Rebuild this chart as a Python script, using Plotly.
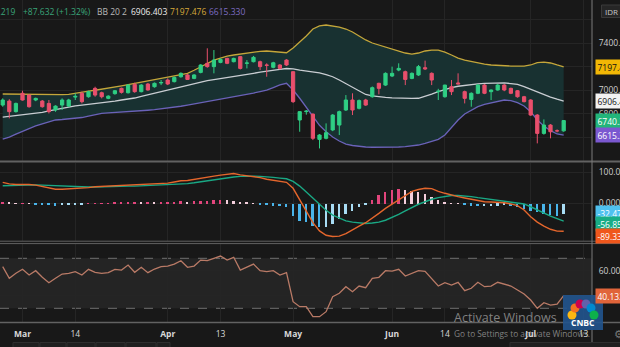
import plotly.graph_objects as go

# ---------------- data ----------------
tick_idx = [3, 11, 25, 33, 44, 59, 67, 80, 88]
tick_txt = ['<b>Mar</b>', '14', '<b>Apr</b>', '13', '<b>May</b>', '<b>Jun</b>', '14', '<b>Jul</b>', '13']

opens = [6872, 6906, 6816, 6972, 6957, 6915, 6906, 6886, 6830, 6872,
         6864, 6940, 6972, 6943, 7014, 6977, 6929, 6969, 7014, 6977,
         7048, 6986, 7051, 7028, 7060, 7085, 7071, 7113, 7128, 7099,
         7150, 7227, 7199, 7235, 7269, 7241, 7284, 7227, 7241, 7241,
         7213, 7193, 7213, 7255, 7156, 6745, 6816, 6795, 6580, 6589,
         6660, 6702, 6830, 6915, 6844, 6915, 6943, 7057, 7042, 7119,
         7170, 7156, 7099, 7128, 7190, 7142, 6986, 6943, 7028, 7060,
         6986, 6920, 6972, 7042, 6986, 7000, 7042, 7014, 6994, 6943,
         6915, 6787, 6631, 6702, 6653, 6652.587]
highs = [6929, 6922, 6893, 6994, 6965, 6935, 6915, 6915, 6870, 6929,
         6925, 6972, 6986, 6994, 7028, 6986, 6955, 7000, 7020, 7050,
         7062, 7050, 7060, 7064, 7085, 7099, 7115, 7150, 7135, 7135,
         7220, 7355, 7340, 7270, 7275, 7275, 7290, 7255, 7290, 7250,
         7227, 7240, 7220, 7262, 7160, 6820, 6830, 6801, 6625, 6716,
         6795, 6825, 6957, 6972, 6920, 6925, 7030, 7062, 7150, 7199,
         7227, 7165, 7150, 7213, 7250, 7150, 7010, 7045, 7085, 7142,
         6995, 6980, 7050, 7050, 7005, 7050, 7050, 7020, 7000, 6950,
         6922, 6795, 6750, 6710, 6665, 6745]
lows = [6858, 6759, 6808, 6910, 6850, 6905, 6850, 6801, 6815, 6830,
        6855, 6915, 6886, 6935, 6943, 6929, 6922, 6960, 6970, 6970,
        6977, 6980, 6995, 7020, 7042, 7042, 7065, 7105, 7085, 7092,
        7142, 7190, 7142, 7228, 7220, 7235, 7175, 7184, 7235, 7170,
        7113, 7185, 7175, 7205, 6890, 6645, 6790, 6574, 6503, 6580,
        6650, 6617, 6822, 6787, 6835, 6865, 6935, 6963, 7035, 7110,
        7160, 7042, 7092, 7120, 7170, 7042, 6915, 6935, 6957, 7050,
        6886, 6858, 6965, 6965, 6915, 6995, 6990, 6965, 6935, 6895,
        6780, 6546, 6620, 6589, 6640, 6645]
closes = [6915, 6816, 6886, 6915, 6858, 6929, 6858, 6816, 6863, 6915,
          6915, 6946, 6901, 6986, 6957, 6943, 6948, 6994, 6980, 7042,
          6986, 7042, 7000, 7057, 7064, 7051, 7107, 7142, 7090, 7128,
          7213, 7199, 7255, 7260, 7227, 7269, 7184, 7230, 7278, 7199,
          7210, 7232, 7184, 7213, 6901, 6816, 6820, 6589, 6617, 6637,
          6787, 6816, 6915, 6830, 6910, 6872, 7020, 7014, 7142, 7142,
          7184, 7090, 7142, 7199, 7180, 7085, 6990, 7042, 6986, 7052,
          6929, 6972, 7042, 6972, 7000, 7042, 7000, 6972, 6943, 6901,
          6787, 6631, 6702, 6645, 6652.587, 6740.219]

bb_upper = [6966, 6965, 6964, 6964, 6963, 6962, 6960, 6957, 6957, 6960,
            6963, 6970, 6980, 6990, 6998, 7006, 7016, 7026, 7036, 7046,
            7057, 7067, 7077, 7087, 7098, 7108, 7119, 7130, 7142, 7168,
            7198, 7228, 7255, 7272, 7289, 7298, 7306, 7316, 7326, 7329,
            7332, 7329, 7326, 7317, 7357, 7408, 7460, 7519, 7545, 7553,
            7545, 7536, 7519, 7494, 7460, 7426, 7400, 7383, 7366, 7349,
            7332, 7315, 7306, 7315, 7332, 7340, 7340, 7323, 7298, 7272,
            7255, 7243, 7230, 7221, 7213, 7208, 7204, 7204, 7204, 7204,
            7213, 7234, 7238, 7230, 7213, 7197.476]
bb_basis = [6770, 6776, 6781, 6787, 6792, 6798, 6810, 6822, 6834, 6847,
            6860, 6866, 6872, 6878, 6883, 6889, 6897, 6906, 6915, 6923,
            6932, 6946, 6960, 6973, 6987, 7000, 7014, 7028, 7043, 7057,
            7071, 7080, 7088, 7096, 7105, 7113, 7123, 7133, 7142, 7152,
            7162, 7169, 7176, 7183, 7180, 7170, 7162, 7154, 7145, 7130,
            7113, 7085, 7055, 7025, 6992, 6962, 6950, 6942, 6937, 6933,
            6930, 6929, 6929, 6930, 6945, 6965, 6986, 7005, 7020, 7032,
            7040, 7047, 7052, 7056, 7059, 7062, 7060, 7055, 7048, 7028,
            7005, 6982, 6960, 6940, 6922, 6906.403]
bb_lower = [6583, 6600, 6625, 6651, 6672, 6694, 6712, 6728, 6745, 6749,
            6753, 6760, 6766, 6778, 6790, 6802, 6805, 6808, 6811, 6814,
            6817, 6822, 6828, 6833, 6839, 6844, 6853, 6862, 6872, 6882,
            6892, 6902, 6912, 6921, 6930, 6940, 6951, 6962, 6974, 6987,
            7000, 7021, 7043, 7057, 7000, 6930, 6850, 6770, 6700, 6645,
            6600, 6566, 6540, 6528, 6519, 6515, 6513, 6512, 6512, 6513,
            6515, 6518, 6523, 6532, 6546, 6560, 6580, 6617, 6681, 6745,
            6796, 6830, 6858, 6878, 6892, 6906, 6915, 6909, 6892, 6864,
            6816, 6745, 6694, 6654, 6626, 6615.330]

macd_line = [66.7, 62, 60, 61, 60, 58, 54, 48, 45, 45,
             46, 47, 48, 50, 53, 54, 56, 57, 58, 59,
             60, 60, 61, 61, 62, 64.5, 68, 72, 73, 77,
             81, 84, 87, 90, 93.5, 95, 91, 88, 86, 82,
             77, 74, 71, 67, 48, 10, -28, -62, -88, -102,
             -106, -105, -97, -84, -73, -62, -48, -32, -16, -2,
             11, 26, 38, 44, 48, 47, 38, 32, 26, 21.5,
             17, 13, 9, 5, 4, 4, 2, -2, -7.5, -21.5,
             -43, -60, -73, -83, -89, -89.3312]
signal_line = [56, 57, 58, 59, 59, 59, 58, 57, 56, 54,
               53, 52, 52, 52, 52, 53, 53, 54, 54, 55,
               55, 56, 56, 57, 57, 58, 59, 61, 63, 65.5,
               69, 72, 75, 78.5, 82, 84, 86, 87, 87, 86,
               85, 83, 80.6, 78.5, 70, 55, 36, 16, -4, -22,
               -37.6, -48, -56, -60, -63, -64.5, -63, -60, -54, -45,
               -35.5, -24, -13, -3, 5, 13, 18, 21.5, 25, 25,
               24, 21.5, 18, 15, 12, 10, 7.5, 5, 2, -2,
               -11, -21.5, -32, -41, -49, -56.8541]
macd_hist = [5, 3, 2, 2, 0.5, -1, -4, -5, -6, -5,
             -4, -2, -1, 0.5, 1, 2, 2, 3, 4, 4,
             5, 4, 5, 4, 5, 6, 7, 8, 7, 8,
             9, 10, 12, 13, 11, 9, 6, 3, 1, -2,
             -4, -6, -8, -10, -38, -54, -59, -70, -75, -75,
             -65, -48, -32, -22, -9, -3, 11, 27, 38, 45,
             48, 43, 40, 38, 32, 22, 11, 5, 2, 0.5,
             -4, -6, -8, -8, -7, -6, -5, -7, -11, -16,
             -22, -27, -32, -36, -38, -32.4771]

rsi = [63.3, 54, 58, 61.2, 56.6, 60.1, 54.8, 50.5, 54, 57.4,
       58, 59.3, 56.6, 61.2, 58.8, 58, 58.5, 61.2, 60.6, 64.6,
       58.8, 62.8, 58.5, 61.4, 63.3, 63.8, 65.4, 68.1, 62.8, 63.8,
       68.6, 68.1, 70, 71.8, 68.6, 70.8, 60.6, 62.8, 65.4, 60.1,
       59.3, 60.1, 56.6, 58.5, 35.3, 31.3, 31.3, 23.3, 23.3, 27.3,
       39.3, 42, 47.3, 43.3, 47.8, 46.5, 54, 54.8, 60.1, 59.8,
       61.2, 55.8, 58, 60.1, 59.6, 54, 47.8, 50.5, 48.6, 50.8,
       44.1, 46, 50.8, 47.3, 47.8, 50.8, 49.4, 47.8, 44.6, 41.4,
       36.6, 30, 34.5, 32.6, 33.4, 40.132]

header_close = '6740.219'
header_change = '+87.632 (+1.32%)'

# ---------------- styling ----------------
W, H = 620, 347
BG = '#181818'
GRID = '#252525'
FONT = 'Open Sans'
XD = 592 / W
GREEN = '#2fcf84'
RED = '#e94f6c'

def py(px):
    return 1 - px / H

bars = list(range(len(closes)))

# histogram colours (growing / falling)
hist_colors = []
for i, h in enumerate(macd_hist):
    prev = macd_hist[i - 1] if i > 0 else h
    if h >= 0:
        hist_colors.append('#e2457c' if h >= prev else '#f4cfdc')
    else:
        hist_colors.append('#49b4ea' if h < prev else '#a8dcf4')

fig = go.Figure()

# Bollinger bands (base price axis)
fig.add_trace(go.Scatter(x=bars, y=bb_lower, mode='lines',
                         line=dict(color='#6a62b8', width=1.3),
                         xaxis='x', yaxis='y', hoverinfo='skip'))
fig.add_trace(go.Scatter(x=bars, y=bb_upper, mode='lines',
                         line=dict(color='#c4a63a', width=1.3),
                         fill='tonexty', fillcolor='#183131',
                         xaxis='x', yaxis='y', hoverinfo='skip'))
fig.add_trace(go.Scatter(x=bars, y=bb_basis, mode='lines',
                         line=dict(color='#c9cdd2', width=1.3),
                         xaxis='x', yaxis='y', hoverinfo='skip'))
# candles on an overlaying axis so they are drawn above the band fill
fig.add_trace(go.Candlestick(x=bars, open=opens, high=highs, low=lows, close=closes,
                             increasing=dict(line=dict(color=GREEN, width=1), fillcolor=GREEN),
                             decreasing=dict(line=dict(color=RED, width=1), fillcolor=RED),
                             whiskerwidth=0, xaxis='x', yaxis='y4'))

# MACD
fig.add_trace(go.Bar(x=bars, y=macd_hist, marker=dict(color=hist_colors, line=dict(width=0)),
                     width=0.3, xaxis='x2', yaxis='y2'))
fig.add_trace(go.Scatter(x=bars, y=signal_line, mode='lines',
                         line=dict(color='#1aa884', width=1.4), xaxis='x2', yaxis='y2'))
fig.add_trace(go.Scatter(x=bars, y=macd_line, mode='lines',
                         line=dict(color='#e4662c', width=1.4), xaxis='x2', yaxis='y2'))

# RSI
fig.add_trace(go.Scatter(x=bars, y=rsi, mode='lines',
                         line=dict(color='#b97a66', width=1.3), xaxis='x3', yaxis='y3'))

xrange_ = [-0.41, 89.29]
xcommon = dict(range=xrange_, showgrid=True, gridcolor=GRID, gridwidth=1,
               tickvals=tick_idx, zeroline=False, showline=False, fixedrange=True,
               domain=[0, XD], automargin=False)

ycommon = dict(side='right', showgrid=True, gridcolor=GRID, zeroline=False,
               showline=False, ticks='outside', ticklen=4, tickcolor=BG, automargin=False,
               tickfont=dict(family=FONT, size=8.5, color='#cfcfcf'), fixedrange=True)

price_range = [6396, 7766]

shapes = []
# RSI band fill and dashed lines
shapes.append(dict(type='rect', xref='paper', yref='y3', x0=0, x1=XD, y0=30, y1=70,
                   fillcolor='#242424', line=dict(width=0), layer='below'))
for lv in (70, 30):
    shapes.append(dict(type='line', xref='paper', yref='y3', x0=0, x1=XD, y0=lv, y1=lv,
                       line=dict(color='#707070', width=1, dash='dash'), layer='below'))
# pane separators
for ypx, w in ((161.5, 2), (241.2, 1), (243.6, 1), (322.6, 1.5)):
    shapes.append(dict(type='line', xref='paper', yref='paper', x0=0, x1=1,
                       y0=py(ypx), y1=py(ypx), line=dict(color='#626262', width=w)))
# price-scale separator
shapes.append(dict(type='line', xref='paper', yref='paper', x0=XD, x1=XD, y0=0, y1=1,
                   line=dict(color='#7a7a7a', width=1)))
# IDR box
shapes.append(dict(type='rect', xref='paper', yref='paper', x0=601.5 / W, x1=1.02,
                   y0=py(17.5), y1=py(5), fillcolor='#262626', line=dict(color='#3a3a3a', width=1)))
# bottom toolbar buttons (partly visible)
for x0, x1 in ((13, 39), (40, 66), (67, 95), (96, 125), (126, 156), (157, 170), (510, 622)):
    shapes.append(dict(type='rect', xref='paper', yref='paper', x0=x0 / W, x1=x1 / W,
                       y0=py(348), y1=py(342.5), fillcolor='#1f1f1f',
                       line=dict(color='#2e2e2e', width=1)))
# CNBC logo box
shapes.append(dict(type='rect', xref='paper', yref='paper', x0=563 / W, x1=603 / W,
                   y0=py(330), y1=py(295), fillcolor='rgba(34,84,140,0.92)', line=dict(width=0)))
feathers = [(-11, 5, '#fcb711'), (-8, -2, '#f37021'), (-3, -6, '#cc004c'),
            (3, -6, '#6460aa'), (8, -2, '#0089d0'), (11, 5, '#0db14b')]
for dx, dy, col in feathers:
    cx, cy = 583 + dx, 310 + dy
    shapes.append(dict(type='circle', xref='paper', yref='paper',
                       x0=(cx - 4.5) / W, x1=(cx + 4.5) / W, y0=py(cy + 4.5), y1=py(cy - 4.5),
                       fillcolor=col, line=dict(width=0)))

ann = []
def txt(xpx, ypx, s, color, size=8.5, anchor='left', bold=False):
    ann.append(dict(xref='paper', yref='paper', x=xpx / W, y=py(ypx), text=('<b>%s</b>' % s) if bold else s,
                    showarrow=False, xanchor=anchor, yanchor='middle',
                    font=dict(family=FONT, size=size, color=color)))

# header
txt(17, 11.5, header_close, '#3aa57a', anchor='right')
txt(21, 11.5, header_change, '#3aa57a')
txt(95, 11.5, 'BB 20 2', '#b8b8b8')
txt(129, 11.5, '%.3f' % bb_basis[-1], '#ececec')
txt(168, 11.5, '%.3f' % bb_upper[-1], '#d6a83a')
txt(207, 11.5, '%.3f' % bb_lower[-1], '#7d6cc2')
txt(603, 11.5, 'IDR', '#c8c8c8', size=8)

# value badges
def badge(yref, val, text, bg, fg, yshift=0):
    ann.append(dict(xref='paper', yref=yref, x=594.5 / W, y=val, text=text, showarrow=False,
                    xanchor='left', yanchor='middle', yshift=yshift, bgcolor=bg, borderpad=1.5,
                    font=dict(family=FONT, size=8.5, color=fg)))

badge('y', bb_upper[-1], '%.3f' % bb_upper[-1], '#f2b705', '#111111')
badge('y', bb_basis[-1], '%.3f' % bb_basis[-1], '#f2f2f2', '#111111')
badge('y', closes[-1], '%.3f' % closes[-1], '#22b57a', '#ffffff')
badge('y', bb_lower[-1], '%.3f' % bb_lower[-1], '#7b58d0', '#ffffff')
badge('y2', macd_hist[-1], '%.4f' % macd_hist[-1], '#4fc1f0', '#ffffff')
badge('y2', signal_line[-1], '%.4f' % signal_line[-1], '#19ad86', '#ffffff', yshift=-3)
badge('y2', macd_line[-1], '%.4f' % macd_line[-1], '#f0571c', '#ffffff', yshift=-5)
badge('y3', rsi[-1], '%.3f' % rsi[-1], '#e0643a', '#ffffff')

# watermark / logo texts
txt(583, 322, 'CNBC', '#ffffff', size=8.5, anchor='center', bold=True)
txt(452, 317, 'Activate Windows', 'rgba(200,200,200,0.6)', size=12.5)
txt(452, 333, 'Go to Settings to activate Windows.', 'rgba(200,200,200,0.6)', size=8.3)
txt(612, 333, '⚙', '#777777', size=11)

fig.update_layout(
    width=W, height=H, autosize=False,
    margin=dict(l=0, r=0, t=0, b=0),
    paper_bgcolor=BG, plot_bgcolor=BG,
    showlegend=False, bargap=0,
    xaxis=dict(anchor='y', showticklabels=False, rangeslider=dict(visible=False), **xcommon),
    xaxis2=dict(anchor='y2', matches='x', showticklabels=False, **xcommon),
    xaxis3=dict(anchor='y3', matches='x', showticklabels=True, ticktext=tick_txt,
                ticks='outside', ticklen=3, tickcolor=BG,
                tickfont=dict(family=FONT, size=8.5, color='#d8d8d8'), **xcommon),
    yaxis=dict(anchor='x', domain=[py(161), 1], range=price_range,
               tickvals=[7600, 7400, 7200, 7000, 6800, 6600],
               ticktext=['', '7400.000', '', '7000.000', '6800.000', ''], **ycommon),
    yaxis4=dict(overlaying='y', anchor='x', side='right', range=price_range, visible=False,
                showgrid=False, fixedrange=True, automargin=False),
    yaxis2=dict(anchor='x2', domain=[py(241), py(162.5)], range=[-120.4, 130.4],
                tickvals=[100, 0], ticktext=['100.0000', '0.0000'], **ycommon),
    yaxis3=dict(anchor='x3', domain=[py(322.5), py(243.5)], range=[18.64, 81.84],
                tickvals=[60, 40], ticktext=['60.0000', ''], **ycommon),
    shapes=shapes, annotations=ann,
)

fig.write_html('out.html')
